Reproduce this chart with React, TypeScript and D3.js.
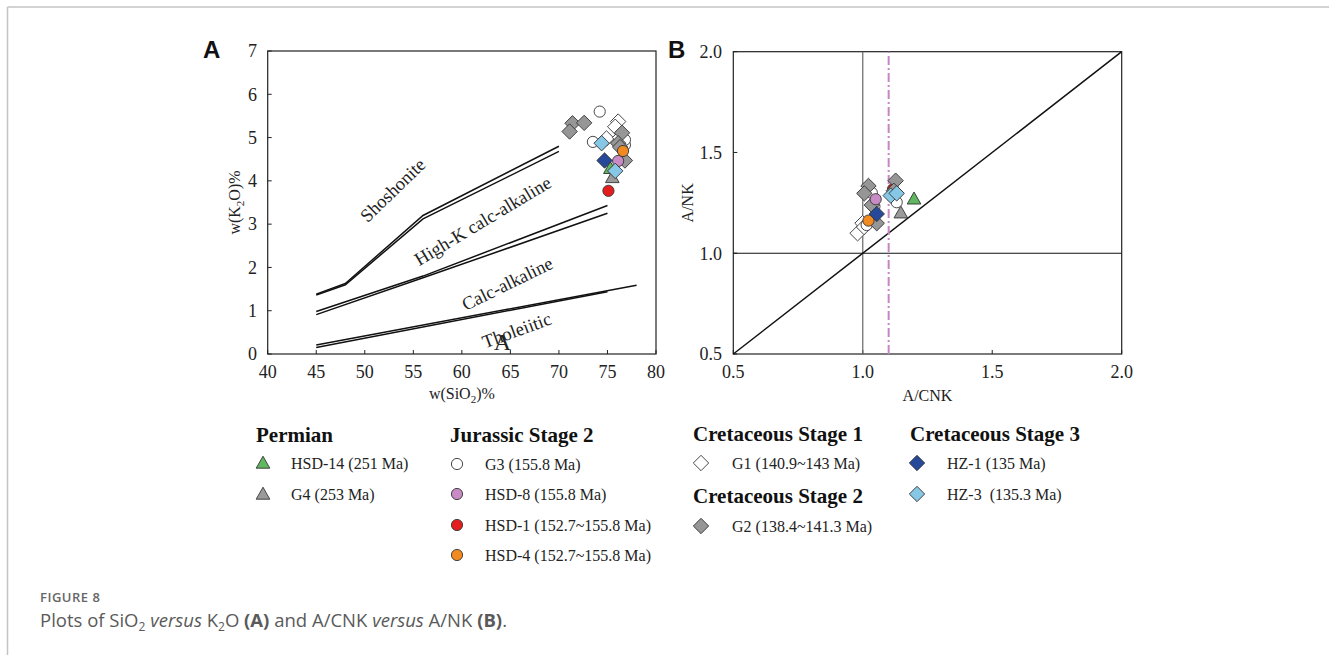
import React from "react";
import * as d3 from "d3";

// ---------- Data ----------
// Panel A: SiO2 (wt%) vs K2O (wt%)
const hsd14A = [[75.3, 4.29]];
const g4A = [[75.5, 4.08]];
const g3A = [[74.2, 5.6], [73.5, 4.9], [76.8, 4.83], [76.8, 4.95]];
const hsd8A = [[76.1, 4.46]];
const hsd1A = [[75.1, 3.77]];
const hsd4A = [[76.6, 4.69]];
const g1A = [[76.1, 5.37], [75.8, 5.25], [74.9, 4.98], [76.3, 5.0]];
const g2A = [[71.4, 5.33], [72.6, 5.34], [71.1, 5.14], [76.5, 5.11], [76.1, 4.87], [76.3, 4.78], [76.8, 4.47]];
const hz1A = [[74.7, 4.47]];
const hz3A = [[74.4, 4.87], [75.8, 4.23]];

// Panel B: A/CNK vs A/NK
const hsd14B = [[1.198, 1.27]];
const g4B = [[1.147, 1.201]];
const g3B = [[1.131, 1.253], [1.045, 1.232], [1.035, 1.3], [1.015, 1.14]];
const hsd8B = [[1.05, 1.268]];
const hsd1B = [[1.117, 1.318]];
const hsd4B = [[1.022, 1.162]];
const g1B = [[0.98, 1.099], [0.999, 1.149], [1.005, 1.13]];
const g2B = [[1.022, 1.334], [1.006, 1.297], [1.035, 1.239], [1.054, 1.149], [1.127, 1.36], [1.12, 1.31]];
const hz1B = [[1.054, 1.195]];
const hz3B = [[1.108, 1.286], [1.131, 1.297]];

// Boundary lines (Panel A)
const shoHighK1 = [[45, 1.38], [48, 1.63], [56, 3.2], [70, 4.8]];
const shoHighK2 = [[45, 1.36], [48, 1.6], [56, 3.12], [70, 4.68]];
const highKCalc1 = [[45, 0.98], [56, 1.8], [75, 3.43]];
const highKCalc2 = [[45, 0.91], [56, 1.76], [75, 3.25]];
const calcThol1 = [[45, 0.21], [78, 1.59]];
const calcThol2 = [[45, 0.15], [75, 1.44]];

const xTicksA = [40, 45, 50, 55, 60, 65, 70, 75, 80];
const yTicksA = [0, 1, 2, 3, 4, 5, 6, 7];
const ticksB = [0.5, 1.0, 1.5, 2.0];

const seriesNames = ["HSD-14", "G4", "G3", "HSD-8", "HSD-1", "HSD-4", "G1", "G2", "HZ-1", "HZ-3"];
const seriesLabels = ["HSD-14 (251 Ma)", "G4 (253 Ma)", "G3 (155.8 Ma)", "HSD-8 (155.8 Ma)", "HSD-1 (152.7~155.8 Ma)", "HSD-4 (152.7~155.8 Ma)", "G1 (140.9~143 Ma)", "G2 (138.4~141.3 Ma)", "HZ-1 (135 Ma)", "HZ-3\u00a0 (135.3 Ma)"];
const groupTitles = ["Permian", "Jurassic Stage 2", "Cretaceous Stage 1", "Cretaceous Stage 2", "Cretaceous Stage 3"];

const style: Record<string, { shape: string; fill: string }> = {
  "HSD-14": { shape: "tri", fill: "#5fb760" },
  G4: { shape: "tri", fill: "#9a9a9a" },
  G3: { shape: "circle", fill: "#ffffff" },
  "HSD-8": { shape: "circle", fill: "#c98bc5" },
  "HSD-1": { shape: "circle", fill: "#e41e1e" },
  "HSD-4": { shape: "circle", fill: "#f28a22" },
  G1: { shape: "diamond", fill: "#ffffff" },
  G2: { shape: "diamond", fill: "#969696" },
  "HZ-1": { shape: "diamond", fill: "#27499a" },
  "HZ-3": { shape: "diamond", fill: "#86c7e6" },
};

const SERIF = "'Liberation Serif', 'Times New Roman', serif";

function Marker({ name, x, y }: { name: string; x: number; y: number }) {
  const s = style[name];
  const stroke = "#333";
  if (s.shape === "circle") return <circle cx={x} cy={y} r={5.6} fill={s.fill} stroke={stroke} strokeWidth={0.9} />;
  if (s.shape === "tri") {
    const p = [[x, y - 6.8], [x + 6.8, y + 5.2], [x - 6.8, y + 5.2]];
    return <polygon points={p.map((d) => d.join(",")).join(" ")} fill={s.fill} stroke={stroke} strokeWidth={0.9} />;
  }
  const r = 7.7;
  const p = [[x, y - r], [x + r, y], [x, y + r], [x - r, y]];
  return <polygon points={p.map((d) => d.join(",")).join(" ")} fill={s.fill} stroke={stroke} strokeWidth={0.9} />;
}

export default function App() {
  // Panel A scales
  const xA = d3.scaleLinear().domain([40, 80]).range([267.7, 656]);
  const yA = d3.scaleLinear().domain([0, 7]).range([354, 51]);
  // Panel B scales
  const xB = d3.scaleLinear().domain([0.5, 2.0]).range([733.3, 1121.7]);
  const yB = d3.scaleLinear().domain([0.5, 2.0]).range([354, 51.7]);

  const lineA = d3.line<number[]>().x((d) => xA(d[0])).y((d) => yA(d[1]));

  const seriesA: [string, number[][]][] = [
    ["HSD-14", hsd14A], ["G4", g4A], ["G1", g1A], ["G3", g3A], ["G2", g2A],
    ["HSD-8", hsd8A], ["HSD-1", hsd1A], ["HSD-4", hsd4A], ["HZ-1", hz1A], ["HZ-3", hz3A],
  ];
  const seriesB: [string, number[][]][] = [
    ["HSD-14", hsd14B], ["G4", g4B], ["G1", g1B], ["G3", g3B], ["HSD-1", hsd1B], ["G2", g2B],
    ["HSD-8", hsd8B], ["HSD-4", hsd4B], ["HZ-1", hz1B], ["HZ-3", hz3B],
  ];

  const boundaries = [shoHighK1, shoHighK2, highKCalc1, highKCalc2, calcThol1, calcThol2];

  const fieldLabels: [string, number, number, number][] = [
    ["Shoshonite", 52.87, 3.79, -44],
    ["High-K calc-alkaline", 62.14, 3.08, -31],
    ["Calc-alkaline", 64.67, 1.63, -26],
    ["Tholeiitic", 65.64, 0.554, -20],
  ];

  // legend layout
  const legendCols = [
    { title: groupTitles[0], tx: 256, ty: 442, mx: 263, lx: 291, items: [[0, 463], [1, 494]] },
    { title: groupTitles[1], tx: 450, ty: 442, mx: 457, lx: 485, items: [[2, 464], [3, 494], [4, 525], [5, 555]] },
    { title: groupTitles[2], tx: 693, ty: 441, mx: 701, lx: 732, items: [[6, 463]] },
    { title: groupTitles[3], tx: 693, ty: 503, mx: 701, lx: 732, items: [[7, 526]] },
    { title: groupTitles[4], tx: 910, ty: 441, mx: 917, lx: 947, items: [[8, 463], [9, 494]] },
  ];

  return (
    <svg width={1329} height={655} style={{ position: "absolute", left: 0, top: 0, background: "#fff" }}>
      {/* page frame */}
      <line x1={7.5} y1={7} x2={1329} y2={7} stroke="#c4c4c4" strokeWidth={1.5} />
      <line x1={7.5} y1={7} x2={7.5} y2={655} stroke="#c4c4c4" strokeWidth={1.5} />

      {/* ===== Panel A ===== */}
      <text x={203} y={58} fontFamily="'Liberation Sans', Arial, sans-serif" fontWeight="bold" fontSize={24} fill="#111">A</text>
      <rect x={xA(40)} y={yA(7)} width={xA(80) - xA(40)} height={yA(0) - yA(7)} fill="none" stroke="#222" strokeWidth={1.2} />
      {xTicksA.map((t) => (
        <g key={"xa" + t}>
          <line x1={xA(t)} x2={xA(t)} y1={yA(0)} y2={yA(0) - 4} stroke="#222" />
          <text x={xA(t)} y={378} textAnchor="middle" fontFamily={SERIF} fontSize={18} fill="#222">{t}</text>
        </g>
      ))}
      {yTicksA.map((t) => (
        <g key={"ya" + t}>
          <line x1={xA(40)} x2={xA(40) + 4} y1={yA(t)} y2={yA(t)} stroke="#222" />
          <text x={257} y={yA(t)} dy="0.35em" textAnchor="end" fontFamily={SERIF} fontSize={18} fill="#222">{t}</text>
        </g>
      ))}
      <text x={xA(60)} y={399} textAnchor="middle" fontFamily={SERIF} fontSize={16} fill="#222">
        w(SiO<tspan fontSize={11} dy={4}>2</tspan><tspan dy={-4}>)%</tspan>
      </text>
      <text transform={`translate(240,${(yA(0) + yA(7)) / 2}) rotate(-90)`} textAnchor="middle" fontFamily={SERIF} fontSize={16} fill="#222">
        w(K<tspan fontSize={11} dy={4}>2</tspan><tspan dy={-4}>O)%</tspan>
      </text>
      {boundaries.map((b, i) => (
        <path key={"b" + i} d={lineA(b) || ""} fill="none" stroke="#111" strokeWidth={1.5} />
      ))}
      {fieldLabels.map(([t, x, y, a]) => (
        <text key={t} transform={`translate(${xA(x)},${yA(y)}) rotate(${a})`} dy="0.35em" textAnchor="middle" fontFamily={SERIF} fontSize={18.5} fill="#222">{t}</text>
      ))}
      <text x={xA(64.18)} y={yA(0.09)} textAnchor="middle" fontFamily={SERIF} fontSize={24} fill="#222">A</text>
      {seriesA.map(([n, pts]) =>
        pts.map((p, i) => <Marker key={n + "a" + i} name={n} x={xA(p[0])} y={yA(p[1])} />)
      )}

      {/* ===== Panel B ===== */}
      <text x={668} y={58} fontFamily="'Liberation Sans', Arial, sans-serif" fontWeight="bold" fontSize={24} fill="#111">B</text>
      <rect x={xB(0.5)} y={yB(2)} width={xB(2) - xB(0.5)} height={yB(0.5) - yB(2)} fill="none" stroke="#222" strokeWidth={1.2} />
      {ticksB.map((t) => (
        <g key={"xb" + t}>
          <line x1={xB(t)} x2={xB(t)} y1={yB(0.5)} y2={yB(0.5) - 4} stroke="#222" />
          <text x={xB(t)} y={378} textAnchor="middle" fontFamily={SERIF} fontSize={18} fill="#222">{d3.format(".1f")(t)}</text>
          <line x1={xB(0.5)} x2={xB(0.5) + 4} y1={yB(t)} y2={yB(t)} stroke="#222" />
          <text x={722} y={yB(t)} dy="0.35em" textAnchor="end" fontFamily={SERIF} fontSize={18} fill="#222">{d3.format(".1f")(t)}</text>
        </g>
      ))}
      <text x={(xB(0.5) + xB(2)) / 2} y={401} textAnchor="middle" fontFamily={SERIF} fontSize={16} fill="#222">A/CNK</text>
      <text transform={`translate(693,${(yB(0.5) + yB(2)) / 2}) rotate(-90)`} textAnchor="middle" fontFamily={SERIF} fontSize={16} fill="#222">A/NK</text>
      <line x1={xB(1)} x2={xB(1)} y1={yB(0.5)} y2={yB(2)} stroke="#666" strokeWidth={1.2} />
      <line x1={xB(0.5)} x2={xB(2)} y1={yB(1)} y2={yB(1)} stroke="#111" strokeWidth={1.2} />
      <line x1={xB(0.5)} x2={xB(2)} y1={yB(0.5)} y2={yB(2)} stroke="#111" strokeWidth={1.5} />
      <line x1={xB(1.1)} x2={xB(1.1)} y1={yB(0.5)} y2={yB(2)} stroke="#c586c4" strokeWidth={2} strokeDasharray="9,3,2,3" />
      {seriesB.map(([n, pts]) =>
        pts.map((p, i) => <Marker key={n + "b" + i} name={n} x={xB(p[0])} y={yB(p[1])} />)
      )}

      {/* ===== Legend ===== */}
      {legendCols.map((c) => (
        <g key={c.title}>
          <text x={c.tx} y={c.ty} fontFamily={SERIF} fontWeight="bold" fontSize={21} fill="#111">{c.title}</text>
          {c.items.map(([idx, y]) => (
            <g key={idx}>
              <Marker name={seriesNames[idx]} x={c.mx} y={y} />
              <text x={c.lx} y={y} dy="0.35em" fontFamily={SERIF} fontSize={16} fill="#222">{seriesLabels[idx]}</text>
            </g>
          ))}
        </g>
      ))}

      {/* ===== Caption ===== */}
      <text x={40} y={602} fontFamily="'Open Sans', sans-serif" fontWeight={600} fontSize={13} letterSpacing={0.5} fill="#666">FIGURE 8</text>
      <text x={40} y={627} fontFamily="'Open Sans', sans-serif" fontSize={18.5} fill="#5a5a5a">
        Plots of SiO<tspan fontSize={12} dy={4}>2</tspan>
        <tspan dy={-4}> </tspan>
        <tspan fontStyle="italic">versus</tspan> K<tspan fontSize={12} dy={4}>2</tspan>
        <tspan dy={-4}>O </tspan>
        <tspan fontWeight="bold">(A)</tspan> and A/CNK <tspan fontStyle="italic">versus</tspan> A/NK <tspan fontWeight="bold">(B)</tspan>.
      </text>
    </svg>
  );
}
